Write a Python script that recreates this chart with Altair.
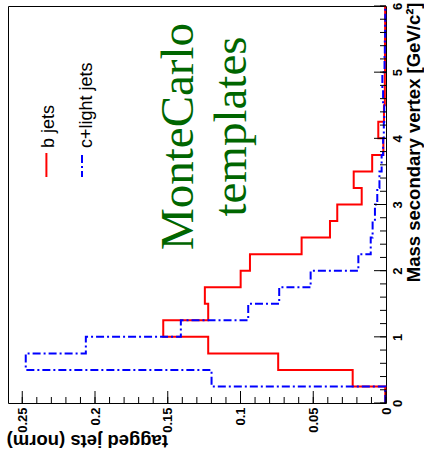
import altair as alt
import pandas as pd

# ---- data ----
mass_low = [0.0, 0.25, 0.5, 0.75, 1.0, 1.25, 1.5, 1.75, 2.0, 2.25, 2.5, 2.75,
            3.0, 3.25, 3.5, 3.75, 4.0, 4.25, 4.5, 4.75, 5.0, 5.25, 5.5, 5.75]
mass_max = 6.0
b_jets = [0.0005, 0.0229, 0.0741, 0.1222, 0.1531, 0.1222, 0.1245, 0.0999,
          0.0935, 0.0580, 0.0385, 0.0335, 0.0167, 0.0222, 0.0095, 0.0018,
          0.0053, 0.0014, 0.0008, 0.0008, 0.0007, 0.0007, 0.0006, 0.0006]
c_light = [0.0005, 0.1199, 0.2476, 0.2063, 0.1410, 0.0947, 0.0734, 0.0518,
           0.0190, 0.0105, 0.0092, 0.0076, 0.0060, 0.0045, 0.0030, 0.0020,
           0.0015, 0.0012, 0.0020, 0.0025, 0.0010, 0.0008, 0.0006, 0.0005]
value_max = 0.2598

x_major = [0, 0.05, 0.1, 0.15, 0.2, 0.25]
x_minor = [round(i * 0.01, 2) for i in range(26)]
y_major = [0, 1, 2, 3, 4, 5, 6]
y_minor = [round(i * 0.2, 1) for i in range(31)]

legend_names = ["b jets", "c+light jets"]
big_text = ["MonteCarlo", "templates"]

W, H = 378, 397


def step_frame(vals):
    return pd.DataFrame({"mass": mass_low + [mass_max], "value": vals + [vals[-1]]})


xscale = alt.Scale(domain=[0, value_max], reverse=True, nice=False, zero=False)
yscale = alt.Scale(domain=[0, mass_max], nice=False, zero=False)

xaxis = alt.Axis(
    orient="bottom", values=x_major, format="~g", ticks=False, tickSize=0,
    domain=False, grid=False, labelAngle=270, labelAlign="right",
    labelBaseline="middle", labelPadding=4, labelFont="Liberation Sans",
    labelFontWeight="bold", labelFontSize=13, labelColor="black",
    labelFlush=False, labelOverlap=False, labelBound=False,
    title="tagged jets (norm)", titleFont="Liberation Sans",
    titleFontWeight="bold", titleFontSize=18.5, titleColor="black",
    titleAngle=180, titleAlign="left", titleBaseline="alphabetic",
    titleX=159.5, titleY=31.5,
)
yaxis = alt.Axis(
    orient="right", values=y_major, format="d", ticks=False, tickSize=0,
    domain=False, grid=False, labelAngle=270, labelAlign="center",
    labelBaseline="top", labelPadding=5, labelFont="Liberation Sans",
    labelFontWeight="bold", labelFontSize=13, labelColor="black",
    labelFlush=False, labelOverlap=False, labelBound=False,
    title="Mass secondary vertex [GeV/c²]", titleFont="Liberation Sans",
    titleFontWeight="bold", titleFontSize=18.5, titleColor="black",
    titleAngle=270, titleAlign="right", titleBaseline="alphabetic",
    titleX=33.5, titleY=-4,
)

hist_b = alt.Chart(step_frame(b_jets)).mark_line(
    color="#ff0000", strokeWidth=2, interpolate="step-before"
).encode(
    x=alt.X("value:Q", scale=xscale, axis=xaxis),
    y=alt.Y("mass:Q", scale=yscale, axis=yaxis),
    order=alt.Order("mass:Q"),
)
hist_c = alt.Chart(step_frame(c_light)).mark_line(
    color="#0000ff", strokeWidth=2, strokeDash=[8, 3, 2, 3], interpolate="step-before"
).encode(
    x=alt.X("value:Q", scale=xscale, axis=xaxis),
    y=alt.Y("mass:Q", scale=yscale, axis=yaxis),
    order=alt.Order("mass:Q"),
)

bx_major = alt.Chart(pd.DataFrame({"value": x_major})).mark_rule(color="black", strokeWidth=1).encode(
    x=alt.X("value:Q", scale=xscale, axis=xaxis), y=alt.value(H), y2=alt.value(H - 12))
bx_minor = alt.Chart(pd.DataFrame({"value": x_minor})).mark_rule(color="black", strokeWidth=1).encode(
    x=alt.X("value:Q", scale=xscale, axis=xaxis), y=alt.value(H), y2=alt.value(H - 6))
ry_major = alt.Chart(pd.DataFrame({"mass": y_major})).mark_rule(color="black", strokeWidth=1).encode(
    y=alt.Y("mass:Q", scale=yscale, axis=yaxis), x=alt.value(W), x2=alt.value(W - 12))
ry_minor = alt.Chart(pd.DataFrame({"mass": y_minor})).mark_rule(color="black", strokeWidth=1).encode(
    y=alt.Y("mass:Q", scale=yscale, axis=yaxis), x=alt.value(W), x2=alt.value(W - 6))

leg_red = alt.Chart(pd.DataFrame({"s": [legend_names[0]]})).mark_rule(
    color="#ff0000", strokeWidth=2).encode(x=alt.value(38.4), y=alt.value(147), y2=alt.value(171))
leg_blue = alt.Chart(pd.DataFrame({"s": [legend_names[1]]})).mark_rule(
    color="#0000ff", strokeWidth=2, strokeDash=[8, 3, 2, 3]).encode(
    x=alt.value(74), y=alt.value(149), y2=alt.value(171))
leg_t1 = alt.Chart(pd.DataFrame({"s": [legend_names[0]]})).mark_text(
    angle=270, align="left", baseline="alphabetic", font="Liberation Sans",
    fontSize=18, color="black").encode(text="s:N", x=alt.value(46), y=alt.value(142))
leg_t2 = alt.Chart(pd.DataFrame({"s": [legend_names[1]]})).mark_text(
    angle=270, align="left", baseline="alphabetic", font="Liberation Sans",
    fontSize=18, color="black").encode(text="s:N", x=alt.value(83.5), y=alt.value(142))

big1 = alt.Chart(pd.DataFrame({"s": [big_text[0]]})).mark_text(
    angle=270, align="center", baseline="alphabetic", font="Liberation Serif",
    fontSize=47, color="#006600").encode(text="s:N", x=alt.value(185), y=alt.value(130.5))
big2 = alt.Chart(pd.DataFrame({"s": [big_text[1]]})).mark_text(
    angle=270, align="center", baseline="alphabetic", font="Liberation Serif",
    fontSize=47, color="#006600").encode(text="s:N", x=alt.value(238.4), y=alt.value(120.5))

chart = alt.layer(
    hist_b, hist_c, bx_major, bx_minor, ry_major, ry_minor,
    leg_red, leg_blue, leg_t1, leg_t2, big1, big2,
).properties(
    width=W, height=H,
    autosize=alt.AutoSizeParams(type="none"),
    padding={"left": 8, "top": 6, "right": 38, "bottom": 55},
    background="white",
).configure_view(stroke="black", strokeWidth=1)

chart.save("out.html", embed_options={"renderer": "svg", "actions": False})
